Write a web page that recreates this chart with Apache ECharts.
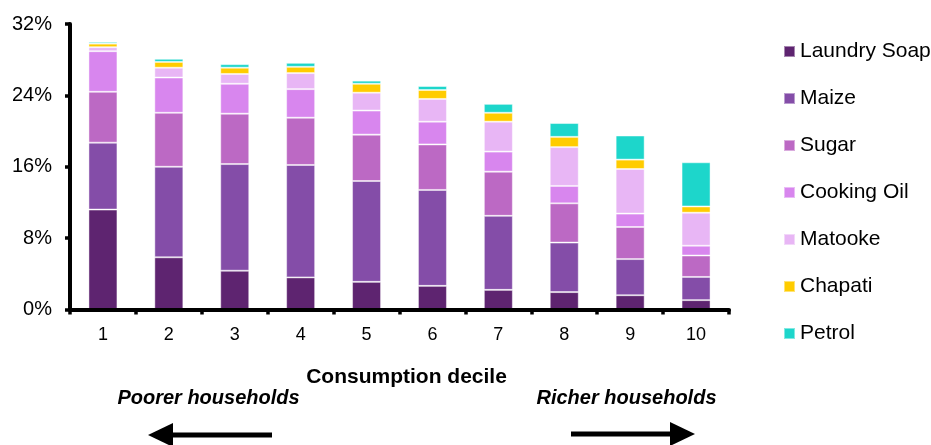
<!DOCTYPE html>
<html>
<head>
<meta charset="utf-8">
<script src="https://cdn.jsdelivr.net/npm/echarts@6/dist/echarts.min.js"></script>
<style>
  html, body { margin: 0; padding: 0; background: #fff; }
  #chart { width: 931px; height: 445px; }
</style>
</head>
<body>
<div id="chart"></div>
<script>
// Share of household budget by consumption decile (%)
const deciles = ['1', '2', '3', '4', '5', '6', '7', '8', '9', '10'];

const laundrySoap = [11.2, 5.85, 4.35, 3.6, 3.1, 2.65, 2.2, 1.95, 1.6, 1.05];
const maize       = [7.5, 10.15, 11.95, 12.6, 11.3, 10.75, 8.3, 5.55, 4.05, 2.6];
const sugar       = [5.7, 6.05, 5.65, 5.3, 5.2, 5.1, 4.95, 4.4, 3.6, 2.4];
const cookingOil  = [4.55, 3.95, 3.35, 3.2, 2.7, 2.55, 2.25, 1.95, 1.5, 1.1];
const matooke     = [0.45, 1.1, 1.1, 1.8, 2.0, 2.55, 3.35, 4.35, 5.0, 3.7];
const chapati     = [0.4, 0.65, 0.7, 0.7, 1.0, 1.0, 1.0, 1.15, 1.05, 0.7];
const petrol      = [0.2, 0.35, 0.4, 0.45, 0.35, 0.45, 1.0, 1.55, 2.7, 4.95];

const yTicks = { min: 0, max: 32, interval: 8 };

const seriesDefs = [
  { name: 'Laundry Soap', data: laundrySoap, color: '#5E2470' },
  { name: 'Maize',        data: maize,       color: '#844DA8' },
  { name: 'Sugar',        data: sugar,       color: '#BC69C4' },
  { name: 'Cooking Oil',  data: cookingOil,  color: '#D886EE' },
  { name: 'Matooke',      data: matooke,     color: '#E8B6F5' },
  { name: 'Chapati',      data: chapati,     color: '#FFCC00' },
  { name: 'Petrol',       data: petrol,      color: '#1DD6CB' }
];

const FONT = '"Liberation Sans", Arial, Helvetica, sans-serif';

const chart = echarts.init(document.getElementById('chart'), null, { renderer: 'canvas' });

chart.setOption({
  animation: false,
  backgroundColor: '#fff',
  grid: { left: 70, right: 202, top: 24, bottom: 135.5, containLabel: false },
  legend: {
    orient: 'vertical',
    left: 783,
    top: 41,
    padding: 0,
    itemWidth: 11,
    itemHeight: 11,
    itemGap: 26,
    icon: 'rect',
    selectedMode: false,
    data: seriesDefs.map(s => s.name),
    textStyle: { fontFamily: FONT, fontSize: 21, lineHeight: 21, color: '#000' }
  },
  xAxis: {
    type: 'category',
    data: deciles,
    z: 5,
    axisLine: { show: true, lineStyle: { color: '#000', width: 4 } },
    axisTick: { show: true, alignWithLabel: false, length: 5, inside: false, lineStyle: { color: '#000', width: 3.5 } },
    axisLabel: { fontFamily: FONT, fontSize: 18, color: '#000', margin: 17 },
    splitLine: { show: false }
  },
  yAxis: {
    type: 'value',
    min: yTicks.min,
    max: yTicks.max,
    interval: yTicks.interval,
    z: 5,
    axisLine: { show: true, lineStyle: { color: '#000', width: 4 } },
    axisTick: { show: true, length: 5, lineStyle: { color: '#000', width: 3.5 } },
    axisLabel: { fontFamily: FONT, fontSize: 20, color: '#000', margin: 18, formatter: '{value}%' },
    splitLine: { show: false }
  },
  series: seriesDefs.map(s => ({
    name: s.name,
    type: 'bar',
    stack: 'share',
    barWidth: 29,
    data: s.data,
    itemStyle: { color: s.color, borderColor: 'rgba(255,255,255,0.45)', borderWidth: 1 },
    emphasis: { disabled: true }
  })),
  graphic: [
    {
      type: 'text', z: 10, x: 406.5, y: 377,
      style: { text: 'Consumption decile', font: 'bold 21px ' + FONT, fill: '#000', align: 'center', verticalAlign: 'middle' }
    },
    {
      type: 'text', z: 10, x: 208.5, y: 398,
      style: { text: 'Poorer households', font: 'italic bold 20px ' + FONT, fill: '#000', align: 'center', verticalAlign: 'middle' }
    },
    {
      type: 'text', z: 10, x: 626.5, y: 398,
      style: { text: 'Richer households', font: 'italic bold 20px ' + FONT, fill: '#000', align: 'center', verticalAlign: 'middle' }
    },
    // left-pointing arrow
    { type: 'rect', z: 10, shape: { x: 171, y: 432.5, width: 101, height: 5 }, style: { fill: '#000' } },
    { type: 'polygon', z: 10, shape: { points: [[148, 435], [173, 423], [173, 447]] }, style: { fill: '#000' } },
    // right-pointing arrow
    { type: 'rect', z: 10, shape: { x: 571, y: 431.5, width: 101, height: 5 }, style: { fill: '#000' } },
    { type: 'polygon', z: 10, shape: { points: [[695, 434], [670, 422], [670, 446]] }, style: { fill: '#000' } }
  ]
});
</script>
</body>
</html>
